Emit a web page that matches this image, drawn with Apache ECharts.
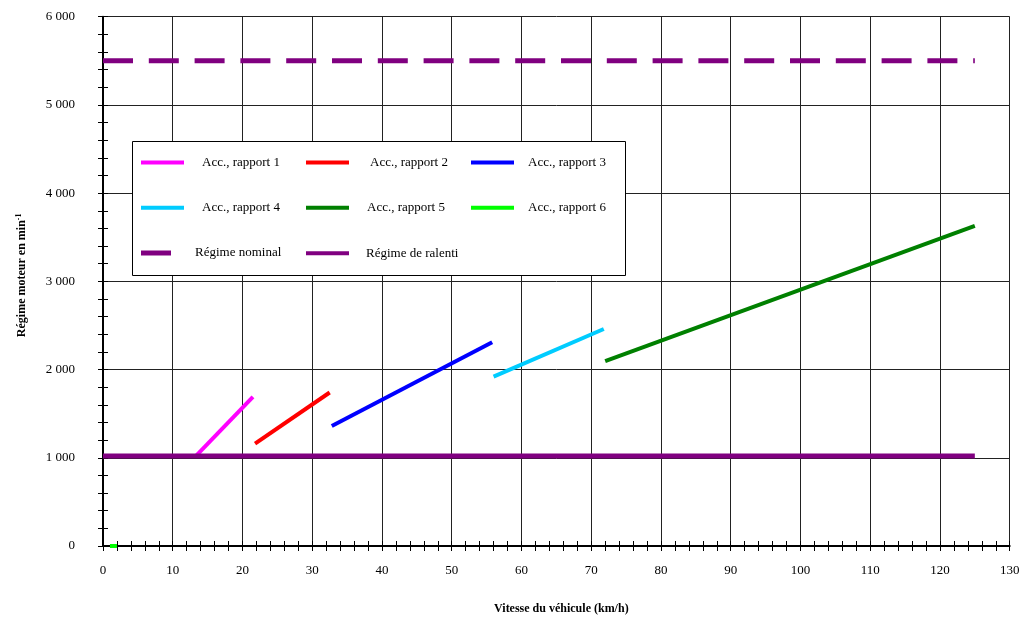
<!DOCTYPE html>
<html><head><meta charset="utf-8">
<script src="https://cdn.jsdelivr.net/npm/echarts@6/dist/echarts.min.js"></script>
<style>html,body{margin:0;padding:0;background:#fff}#c{width:1023px;height:617px}</style>
</head><body><div id="c"></div>
<script>
// ---- data ----
const seriesNames = ['Acc., rapport 1','Acc., rapport 2','Acc., rapport 3','Acc., rapport 4','Acc., rapport 5','Acc., rapport 6','Régime nominal','Régime de ralenti'];
const rapport1 = [[13.3, 1020], [21.5, 1690]];
const rapport2 = [[21.8, 1160], [32.5, 1740]];
const rapport3 = [[32.8, 1360], [55.8, 2310]];
const rapport4 = [[56.0, 1920], [71.8, 2460]];
const rapport5 = [[72.0, 2095], [125.0, 3630]];
const rapport6 = [[1.0, 0], [2.0, 0]];
const regimeNominal = [[0, 5500], [125, 5500]];
const regimeRalenti = [[0, 1020], [125, 1020]];
const xTickLabels = ['0','10','20','30','40','50','60','70','80','90','100','110','120','130'];
const yTickLabels = ['0','1 000','2 000','3 000','4 000','5 000','6 000'];

// ---- style ----
const FONT = "'Liberation Serif','Times New Roman',serif";
const colors = ['#FF00FF','#FF0000','#0000FF','#00CCFF','#008000','#00FF00','#800080','#800080'];
const widths = [4,4,4,4,4,4,5,5];
const allData = [rapport1, rapport2, rapport3, rapport4, rapport5, rapport6, regimeNominal, regimeRalenti];

const series = allData.map((d, i) => ({
  name: seriesNames[i],
  type: 'line',
  data: d,
  showSymbol: false,
  symbol: 'none',
  silent: true,
  animation: false,
  z: 3,
  lineStyle: { color: colors[i], width: widths[i], type: i === 6 ? [30, 15.8] : 'solid', cap: 'butt' },
  itemStyle: { color: colors[i], borderWidth: 0 }
}));

// legend layout: swatch left, swatch centre y, swatch width, text gap, text vertical shift
const legendLayout = [
  { left: 141, cy: 162.5, w: 43, h: 4, gap: 13, up: 0 },
  { left: 306, cy: 162.5, w: 43, h: 4, gap: 16, up: 0 },
  { left: 471, cy: 162.5, w: 43, h: 4, gap: 9,  up: 0 },
  { left: 141, cy: 207.7, w: 43, h: 4, gap: 13, up: 7 },
  { left: 306, cy: 207.7, w: 43, h: 4, gap: 13, up: 0 },
  { left: 471, cy: 207.7, w: 43, h: 4, gap: 9,  up: 7 },
  { left: 141, cy: 253.0, w: 30, h: 5, gap: 19, up: 0 },
  { left: 306, cy: 253.3, w: 43, h: 4, gap: 12, up: 5 }
];
const legends = legendLayout.map((L, i) => ({
  show: true,
  data: [seriesNames[i]],
  left: L.left,
  top: L.cy - (14 + L.up) / 2,
  padding: 0,
  itemWidth: L.w,
  itemHeight: L.h,
  icon: 'rect',
  selectedMode: false,
  z: 10,
  itemStyle: { borderWidth: 0, color: colors[i] },
  lineStyle: { width: 0 },
  textStyle: { fontFamily: FONT, fontSize: 13, color: '#000', lineHeight: 14, padding: [0, 0, L.up, L.gap] }
}));

function yFmt(v) {
  const idx = Math.round(v / 1000);
  return (Math.abs(v - idx * 1000) < 1e-6 && yTickLabels[idx] !== undefined) ? yTickLabels[idx] : '';
}
function xFmt(v) {
  const idx = Math.round(v / 10);
  return xTickLabels[idx] !== undefined ? xTickLabels[idx] : '';
}

const baseX = {
  type: 'value', min: 0, max: 130, interval: 10, gridIndex: 0, position: 'bottom'
};
const baseY = {
  type: 'value', min: 0, max: 6000, interval: 1000, gridIndex: 0, position: 'left'
};

const option = {
  backgroundColor: '#fff',
  animation: false,
  grid: { left: 103, right: 13.3, top: 16.7, bottom: 71, containLabel: false, outerBoundsMode: 'none' },
  xAxis: [
    Object.assign({}, baseX, {
      name: 'Vitesse du véhicule (km/h)',
      nameLocation: 'middle',
      nameGap: 57,
      nameTextStyle: { fontFamily: FONT, fontSize: 12, fontWeight: 'bold', color: '#000', padding: [0, 0, 0, 10] },
      axisLine: { show: true, onZero: false, lineStyle: { color: '#000', width: 2 } },
      axisTick: { show: true, inside: false, length: 5, lineStyle: { color: '#000', width: 1 } },
      minorTick: { show: true, splitNumber: 5, length: 5, lineStyle: { color: '#000', width: 1 } },
      axisLabel: { show: true, margin: 18, fontFamily: FONT, fontSize: 13, color: '#000', formatter: xFmt },
      splitLine: { show: true, lineStyle: { color: '#222', width: 1 } },
      minorSplitLine: { show: false }
    }),
    Object.assign({}, baseX, {
      axisLine: { show: false, onZero: false },
      axisTick: { show: true, inside: true, length: 5, lineStyle: { color: '#000', width: 1 } },
      minorTick: { show: true, splitNumber: 5, length: 5, lineStyle: { color: '#000', width: 1 } },
      axisLabel: { show: false },
      splitLine: { show: false }
    })
  ],
  yAxis: [
    Object.assign({}, baseY, {
      name: '{a|Régime moteur en min}{s|-1}',
      nameLocation: 'middle',
      nameRotate: 90,
      nameGap: 74,
      nameTextStyle: {
        padding: [0, 0, 0, 12],
        rich: {
          a: { fontFamily: FONT, fontSize: 12, fontWeight: 'bold', color: '#000', lineHeight: 14 },
          s: { fontFamily: FONT, fontSize: 8, fontWeight: 'bold', color: '#000', verticalAlign: 'top', lineHeight: 14 }
        }
      },
      axisLine: { show: true, onZero: false, lineStyle: { color: '#000', width: 2 } },
      axisTick: { show: true, inside: false, length: 5, lineStyle: { color: '#000', width: 1 } },
      minorTick: { show: true, splitNumber: 5, length: 5, lineStyle: { color: '#000', width: 1 } },
      axisLabel: { show: true, margin: 28, fontFamily: FONT, fontSize: 13, color: '#000', formatter: yFmt, verticalAlign: 'middle', padding: [0, 0, 6, 0] },
      splitLine: { show: true, lineStyle: { color: '#222', width: 1 } },
      minorSplitLine: { show: false }
    }),
    Object.assign({}, baseY, {
      axisLine: { show: false, onZero: false },
      axisTick: { show: true, inside: true, length: 5, lineStyle: { color: '#000', width: 1 } },
      minorTick: { show: true, splitNumber: 5, length: 5, lineStyle: { color: '#000', width: 1 } },
      axisLabel: { show: false },
      splitLine: { show: false }
    })
  ],
  legend: legends,
  graphic: [{
    type: 'rect',
    z: 5,
    shape: { x: 132.5, y: 141.5, width: 493, height: 134 },
    style: { fill: '#fff', stroke: '#000', lineWidth: 1 }
  }],
  series: series
};

const chart = echarts.init(document.getElementById('c'), null, { renderer: 'canvas' });
chart.setOption(option);
</script>
</body></html>
